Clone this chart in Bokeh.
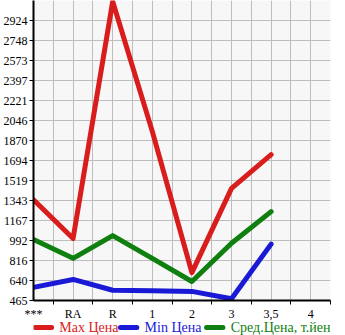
from bokeh.plotting import figure
from bokeh.models import FixedTicker
from bokeh.layouts import column
from bokeh.core.properties import value
from bokeh.embed import file_html
from bokeh.resources import INLINE

categories = ["***", "RA", "R", "1", "2", "3", "3,5", "4"]
max_price = [1350, 1010, 3090, 1950, 710, 1450, 1745]
min_price = [580, 650, 555, 550, 545, 480, 960]
avg_price = [1000, 835, 1035, 835, 632, 968, 1245]
y_tick_values = [465 + k * 175.6 for k in range(15)]
y_tick_labels = ["465", "640", "816", "992", "1167", "1343", "1519", "1694",
                 "1870", "2046", "2221", "2397", "2573", "2748", "2924"]
legend_labels = ["Max Цена", "Min Цена", "Сред.Цена, т.йен"]

xs = list(range(len(max_price)))

p = figure(width=345, height=323, output_backend="svg", toolbar_location=None,
           x_range=(0, 7.5), y_range=(465, 465 + 15 * 175.6),
           min_border_left=31, min_border_right=15, min_border_top=0,
           min_border_bottom=0)
p.border_fill_color = "white"
p.outline_line_color = None
p.background_fill_color = "#f7f7f7"

font = "Liberation Serif"

# x axis
p.xaxis.ticker = FixedTicker(ticks=list(range(len(categories))),
                             minor_ticks=[0.5 + i for i in range(8)])
p.xaxis.major_label_overrides = {i: c for i, c in enumerate(categories)}
p.xaxis.major_tick_out = 0
p.xaxis.major_tick_in = 0
p.xaxis.minor_tick_out = 4
p.xaxis.minor_tick_in = 0
p.xaxis.minor_tick_line_color = "black"
p.xaxis.axis_line_width = 2
p.xaxis.axis_line_color = "black"
p.xaxis.major_label_text_font = font
p.xaxis.major_label_text_font_size = "12px"
p.xaxis.major_label_text_color = "black"
p.xaxis.major_label_standoff = 2

# y axis
p.yaxis.ticker = FixedTicker(ticks=y_tick_values, minor_ticks=[])
p.yaxis.major_label_overrides = {v: l for v, l in zip(y_tick_values, y_tick_labels)}
p.yaxis.major_tick_out = 4
p.yaxis.major_tick_in = 0
p.yaxis.major_tick_line_color = "black"
p.yaxis.axis_line_width = 2
p.yaxis.axis_line_color = "black"
p.yaxis.major_label_text_font = font
p.yaxis.major_label_text_font_size = "12px"
p.yaxis.major_label_text_color = "black"
p.yaxis.major_label_standoff = 2

# grid
p.xgrid.ticker = FixedTicker(ticks=[0.5 * i for i in range(1, 16)])
p.ygrid.ticker = FixedTicker(ticks=y_tick_values)
p.xgrid.grid_line_color = "#bdbdbd"
p.ygrid.grid_line_color = "#bdbdbd"

red = "#d91c1c"
blue = "#1a1ad6"
green = "#0f800f"
colors = [red, blue, green]

p.line(xs, max_price, line_color=red, line_width=5, line_join="round", line_cap="round")
p.line(xs, min_price, line_color=blue, line_width=5, line_join="round", line_cap="round")
p.line(xs, avg_price, line_color=green, line_width=5, line_join="round", line_cap="round")

# legend row
lg = figure(width=345, height=16, output_backend="svg", toolbar_location=None,
            x_range=(0, 345), y_range=(0, 16),
            min_border_left=0, min_border_right=0, min_border_top=0,
            min_border_bottom=0, margin=(-4, 0, 0, 0))
lg.axis.visible = False
lg.grid.visible = False
lg.outline_line_color = None
lg.background_fill_color = "white"
lg.border_fill_color = "white"
lg.background_fill_alpha = 0
lg.border_fill_alpha = 0
legend_x = [2, 101, 201]
lg.segment(x0=legend_x, y0=[8] * 3, x1=[x + 19 for x in legend_x], y1=[8] * 3,
           line_color=colors, line_width=5, line_cap="round")
lg.text(x=[x + 28 for x in legend_x], y=[8] * 3, text=legend_labels,
        text_color=colors, text_font=value(font), text_font_size="14px",
        text_baseline="middle", text_align="left")

open("out.html", "w").write(file_html(column(p, lg, spacing=0), INLINE))
